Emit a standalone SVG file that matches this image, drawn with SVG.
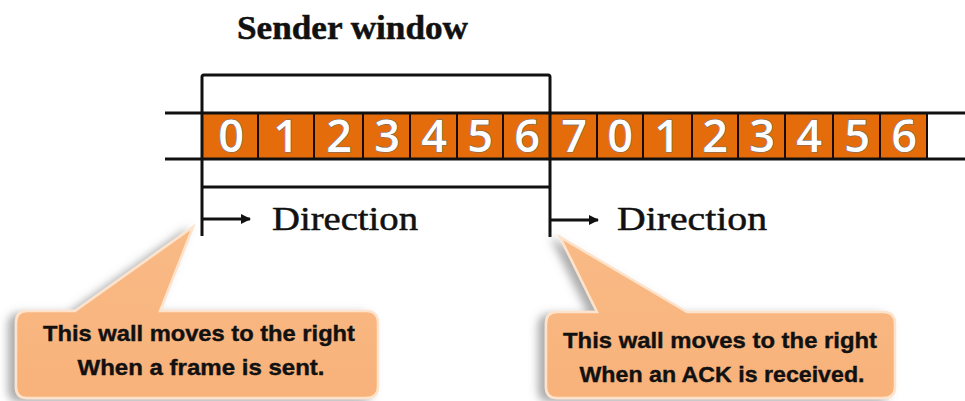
<svg xmlns="http://www.w3.org/2000/svg" width="965" height="401" viewBox="0 0 965 401">
<defs>
<style>
.ln{stroke:#111;stroke-width:3;fill:none}
.cell{fill:#E46C0A;stroke:#1a0a00;stroke-width:2}
.dg{font-family:"Open Sans","Liberation Sans",sans-serif;font-size:45px;font-weight:600;fill:#fff;stroke:#6f6f6f;stroke-width:1.2;paint-order:stroke;text-anchor:middle}
.ser{font-family:"Liberation Serif","Times New Roman",serif;fill:#111;stroke:#111;stroke-width:0.5}
.co{fill:url(#peach);stroke:#FDE3CC;stroke-width:2.5}
.ct{font-family:"Liberation Sans",Arial,sans-serif;font-weight:bold;font-size:22px;fill:#111;stroke:#111;stroke-width:0.4;text-anchor:middle}
</style>
<linearGradient id="peach" x1="0" y1="0" x2="0" y2="1">
<stop offset="0" stop-color="#F9BA86"/>
<stop offset="1" stop-color="#F8B27A"/>
</linearGradient>
<filter id="sh" x="-20%" y="-20%" width="140%" height="140%">
<feDropShadow dx="-7" dy="3" stdDeviation="4" flood-color="#6b6b6b" flood-opacity="0.55"/>
</filter>
<marker id="ah" viewBox="0 0 10 10" refX="9" refY="5" markerWidth="11" markerHeight="10" markerUnits="userSpaceOnUse" orient="auto">
<path d="M0,0 L10,5 L0,10 Z" fill="#111"/>
</marker>
</defs>
<rect width="965" height="401" fill="#fff"/>

<g id="title">
<text class="ser" x="237" y="39" font-size="33" font-weight="bold" textLength="231" lengthAdjust="spacingAndGlyphs">Sender window</text>
</g>

<g id="frames">
<rect class="cell" x="202" y="113" width="56" height="46"/>
<rect class="cell" x="258" y="113" width="56" height="46"/>
<rect class="cell" x="314" y="113" width="49" height="46"/>
<rect class="cell" x="363" y="113" width="47" height="46"/>
<rect class="cell" x="410" y="113" width="47" height="46"/>
<rect class="cell" x="457" y="113" width="46" height="46"/>
<rect class="cell" x="503" y="113" width="47" height="46"/>
<rect class="cell" x="550" y="113" width="47" height="46"/>
<rect class="cell" x="597" y="113" width="46" height="46"/>
<rect class="cell" x="643" y="113" width="49" height="46"/>
<rect class="cell" x="692" y="113" width="46" height="46"/>
<rect class="cell" x="738" y="113" width="47" height="46"/>
<rect class="cell" x="785" y="113" width="48" height="46"/>
<rect class="cell" x="833" y="113" width="47" height="46"/>
<rect class="cell" x="880" y="113" width="47" height="46"/>
<text class="dg" x="231" y="152">0</text>
<text class="dg" x="286" y="152">1</text>
<text class="dg" x="339" y="152">2</text>
<text class="dg" x="387" y="152">3</text>
<text class="dg" x="434" y="152">4</text>
<text class="dg" x="480" y="152">5</text>
<text class="dg" x="527" y="152">6</text>
<text class="dg" x="574" y="152">7</text>
<text class="dg" x="620" y="152">0</text>
<text class="dg" x="667" y="152">1</text>
<text class="dg" x="715" y="152">2</text>
<text class="dg" x="762" y="152">3</text>
<text class="dg" x="809" y="152">4</text>
<text class="dg" x="857" y="152">5</text>
<text class="dg" x="904" y="152">6</text>
</g>

<g id="window">
<line class="ln" x1="165" y1="113" x2="965" y2="113"/>
<line class="ln" x1="165" y1="159" x2="965" y2="159"/>
<path class="ln" d="M202,236 V77 Q202,75 204,75 H548 Q550,75 550,77 V237"/>
<line class="ln" x1="202" y1="187" x2="550" y2="187"/>
</g>

<g id="connectors">
<line class="ln" x1="202" y1="219" x2="250" y2="219" marker-end="url(#ah)"/>
<line class="ln" x1="550" y1="220" x2="598" y2="220" marker-end="url(#ah)"/>
</g>

<g id="dir-left">
<text class="ser" x="272" y="230" font-size="33" textLength="146" lengthAdjust="spacingAndGlyphs">Direction</text>
</g>
<g id="dir-right">
<text class="ser" x="617" y="230" font-size="33" textLength="150" lengthAdjust="spacingAndGlyphs">Direction</text>
</g>

<g id="callout-left">
<path class="co" filter="url(#sh)" d="M27,311 H75 L193,227 L160,311 H366 Q378,311 378,323 V387 Q378,398 366,398 H27 Q16,398 16,387 V323 Q16,311 27,311 Z"/>
<text class="ct" x="199" y="341" textLength="312" lengthAdjust="spacingAndGlyphs">This wall moves to the right</text>
<text class="ct" x="201" y="375" textLength="247" lengthAdjust="spacingAndGlyphs">When a frame is sent.</text>
</g>

<g id="callout-right">
<path class="co" filter="url(#sh)" d="M557,312 H597 L560,237 L687,312 H883 Q895,312 895,324 V387 Q895,398 883,398 H557 Q546,398 546,387 V324 Q546,312 557,312 Z"/>
<text class="ct" x="720" y="348" textLength="314" lengthAdjust="spacingAndGlyphs">This wall moves to the right</text>
<text class="ct" x="722" y="382" textLength="285" lengthAdjust="spacingAndGlyphs">When an ACK is received.</text>
</g>
</svg>
